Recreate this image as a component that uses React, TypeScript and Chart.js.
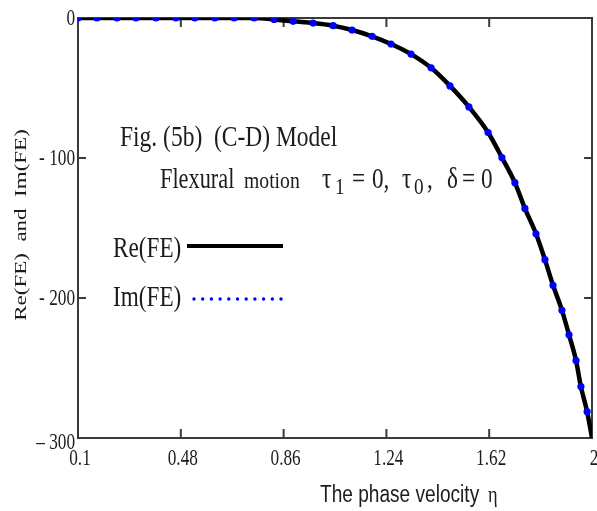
import React, { useEffect, useRef } from "react";
import { Chart, registerables } from "chart.js";

Chart.register(...registerables);

const reEta = [0.1, 0.17, 0.244, 0.314, 0.388, 0.462, 0.532, 0.606, 0.677, 0.751, 0.825, 0.895, 0.969, 1.043, 1.113, 1.187, 1.257, 1.331, 1.405, 1.475, 1.545, 1.616, 1.667, 1.715, 1.752, 1.793, 1.826, 1.856, 1.889, 1.915, 1.941, 1.959, 1.982, 2.0];
const reFE = [0, 0, 0, 0, 0, 0, 0, 0, 0, 0, -1, -2.4, -3.6, -5.5, -8.6, -13.1, -18.6, -25.8, -35.6, -48.5, -63.5, -81.8, -99.7, -117.6, -136, -154.1, -172.6, -190.9, -208.8, -226.3, -244.7, -263.3, -281.2, -300];
const imEta = [0.1, 0.17, 0.244, 0.314, 0.388, 0.462, 0.532, 0.606, 0.677, 0.751, 0.825, 0.895, 0.969, 1.043, 1.113, 1.187, 1.257, 1.331, 1.405, 1.475, 1.545, 1.616, 1.667, 1.715, 1.752, 1.793, 1.826, 1.856, 1.889, 1.915, 1.941, 1.959, 1.982];
const imFE = [0, 0, 0, 0, 0, 0, 0, 0, 0, 0, -1, -2.4, -3.6, -5.5, -8.6, -13.1, -18.6, -25.8, -35.6, -48.5, -63.5, -81.8, -99.7, -117.6, -136, -154.1, -172.6, -190.9, -208.8, -226.3, -244.7, -263.3, -281.2];

const xTicks = [0.1, 0.48, 0.86, 1.24, 1.62, 2];
const xTickLabels = ["0.1", "0.48", "0.86", "1.24", "1.62", "2"];
const yTicks = [0, -100, -200, -300];
const yTickLabels = ["0", "- 100", "- 200", "\u2013 300"];

const SERIF = '"Liberation Serif", "Times New Roman", serif';
const SANS = '"Liberation Sans", Arial, sans-serif';

function txt(ctx: CanvasRenderingContext2D, s: string, x: number, y: number, size: number, family: string, sx: number, align: CanvasTextAlign = "left", baseline: CanvasTextBaseline = "alphabetic") {
  ctx.save();
  ctx.translate(x, y);
  ctx.scale(sx, 1);
  ctx.font = `${size}px ${family}`;
  ctx.textAlign = align;
  ctx.textBaseline = baseline;
  ctx.fillStyle = "#1c1c1c";
  ctx.fillText(s, 0, 0);
  ctx.restore();
}

const framePlugin = {
  id: "frame",
  beforeDatasetsDraw(chart: any) {
    const { ctx, chartArea: a, scales } = chart;
    ctx.save();
    ctx.strokeStyle = "#3a3a3a";
    ctx.lineWidth = 2;
    ctx.strokeRect(a.left, a.top, a.right - a.left, a.bottom - a.top);
    ctx.beginPath();
    xTicks.forEach((v) => {
      const px = scales.x.getPixelForValue(v);
      if (px <= a.left + 1 || px >= a.right - 1) return;
      ctx.moveTo(px, a.bottom);
      ctx.lineTo(px, a.bottom - 9);
      ctx.moveTo(px, a.top);
      ctx.lineTo(px, a.top + 9);
    });
    yTicks.forEach((v) => {
      const py = scales.y.getPixelForValue(v);
      if (py <= a.top + 1 || py >= a.bottom - 1) return;
      ctx.moveTo(a.left, py);
      ctx.lineTo(a.left + 8, py);
      ctx.moveTo(a.right, py);
      ctx.lineTo(a.right - 8, py);
    });
    ctx.stroke();
    ctx.restore();
  },
  afterDraw(chart: any) {
    const { ctx, scales } = chart;
    xTicks.forEach((v, i) => {
      const px = scales.x.getPixelForValue(v);
      txt(ctx, xTickLabels[i], px + 2, 459, 23, SERIF, 0.75, "center", "middle");
    });
    yTicks.forEach((v, i) => {
      const py = scales.y.getPixelForValue(v);
      const off = i === yTicks.length - 1 ? 5 : 1;
      txt(ctx, yTickLabels[i], 75, py + off, 23, SERIF, 0.75, "right", "middle");
    });
    txt(ctx, "The phase velocity", 320, 502, 23, SANS, 0.83, "left");
    txt(ctx, "\u03b7", 488, 502, 23, SERIF, 0.8, "left");
    ctx.save();
    ctx.translate(21, 225);
    ctx.scale(0.75, 1);
    ctx.rotate(-Math.PI / 2);
    ctx.font = `23px ${SERIF}`;
    ctx.textAlign = "center";
    ctx.textBaseline = "middle";
    ctx.fillStyle = "#1c1c1c";
    ctx.fillText("Re(FE)  and  Im(FE)", 0, 0);
    ctx.restore();
    txt(ctx, "Fig. (5b)  (C-D) Model", 120, 146, 29, SERIF, 0.81);
    txt(ctx, "Flexural", 160, 188, 29, SERIF, 0.77);
    txt(ctx, "motion", 244, 188, 24, SERIF, 0.82);
    txt(ctx, "\u03c4", 322, 188, 29, SERIF, 0.8);
    txt(ctx, "1", 335, 194, 24, SERIF, 0.8);
    txt(ctx, "=", 352, 188, 29, SERIF, 0.8);
    txt(ctx, "0,", 372, 188, 29, SERIF, 0.8);
    txt(ctx, "\u03c4", 402, 188, 29, SERIF, 0.8);
    txt(ctx, "0", 414, 194, 24, SERIF, 0.8);
    txt(ctx, ",", 427, 188, 29, SERIF, 0.8);
    txt(ctx, "\u03b4", 447, 188, 29, SERIF, 0.8);
    txt(ctx, "=", 462, 188, 29, SERIF, 0.8);
    txt(ctx, "0", 481, 188, 29, SERIF, 0.8);
    txt(ctx, "Re(FE)", 113, 257, 29, SERIF, 0.8);
    txt(ctx, "Im(FE)", 113, 306, 29, SERIF, 0.8);
    ctx.save();
    ctx.strokeStyle = "#000";
    ctx.lineWidth = 4;
    ctx.beginPath();
    ctx.moveTo(187, 246);
    ctx.lineTo(283, 246);
    ctx.stroke();
    ctx.strokeStyle = "#0000ff";
    ctx.lineWidth = 3.4;
    ctx.lineCap = "round";
    ctx.setLineDash([0, 8.7]);
    ctx.beginPath();
    ctx.moveTo(194, 299);
    ctx.lineTo(286, 299);
    ctx.stroke();
    ctx.restore();
  },
};

export default function App() {
  const ref = useRef<HTMLCanvasElement>(null);
  useEffect(() => {
    if (!ref.current) return;
    const chart = new Chart(ref.current, {
      type: "scatter",
      data: {
        datasets: [
          {
            label: "Im(FE)",
            data: imEta.map((x, i) => ({ x, y: imFE[i] })),
            showLine: false,
            pointRadius: 3.6,
            pointBorderWidth: 0,
            pointBackgroundColor: "#0000ff",
            borderColor: "#0000ff",
            order: 0,
          } as any,
          {
            label: "Re(FE)",
            data: reEta.map((x, i) => ({ x, y: reFE[i] })),
            showLine: true,
            borderColor: "#000000",
            borderWidth: 4.5,
            pointRadius: 0,
            cubicInterpolationMode: "monotone",
            order: 1,
          } as any,
        ],
      },
      options: {
        responsive: false,
        animation: false,
        devicePixelRatio: 1,
        layout: { padding: { left: 78, right: 5, top: 18, bottom: 73 } },
        scales: {
          x: { type: "linear", min: 0.1, max: 2, display: false },
          y: { type: "linear", min: -300, max: 0, display: false },
        },
        plugins: { legend: { display: false }, tooltip: { enabled: false } },
      },
      plugins: [framePlugin],
    });
    return () => chart.destroy();
  }, []);
  return (
    <div style={{ position: "absolute", left: 0, top: 0, width: 597, height: 511, background: "#fff" }}>
      <canvas ref={ref} width={597} height={511} />
    </div>
  );
}
